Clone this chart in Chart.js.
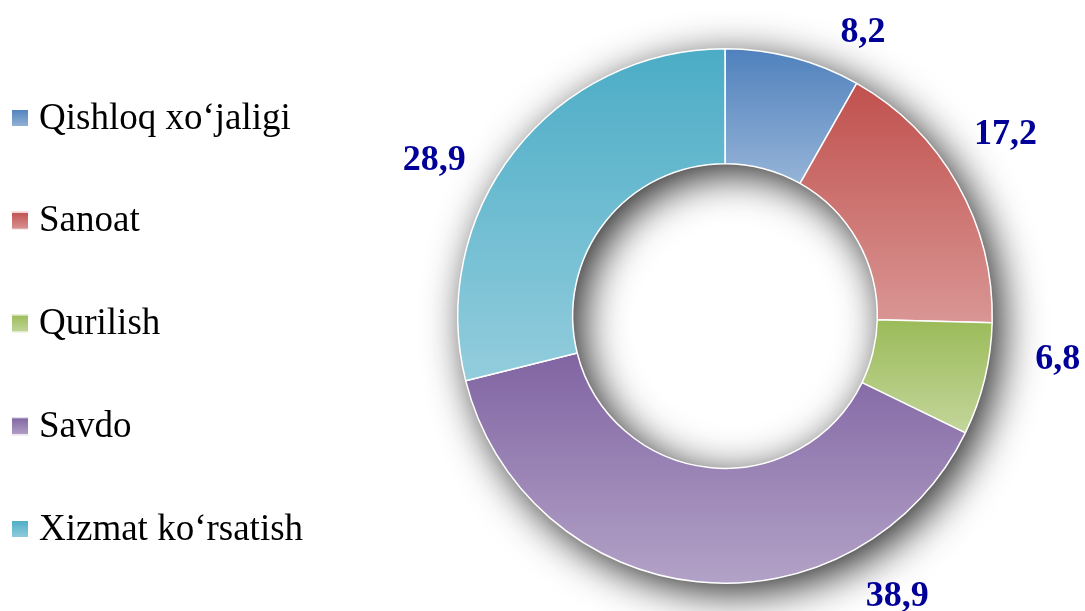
<!DOCTYPE html>
<html>
<head>
<meta charset="utf-8">
<script src="https://cdn.jsdelivr.net/npm/chart.js@4"></script>
<style>
  html, body { margin: 0; padding: 0; background: #ffffff; }
  #wrap { width: 1085px; height: 611px; position: relative; }
</style>
</head>
<body>
<div id="wrap"><canvas id="sectorChart"></canvas></div>
<script>
const labels = ['Qishloq xo\u2018jaligi', 'Sanoat', 'Qurilish', 'Savdo', 'Xizmat ko\u2018rsatish'];
const shares = [8.2, 17.2, 6.8, 38.9, 28.9];

// top / bottom colours of each slice gradient
const topColors = ['#4f81bd', '#c0504d', '#9bbb59', '#8064a2', '#4bacc6'];
const bottomColors = ['#95b3d7', '#d99694', '#c3d69b', '#b3a2c7', '#93cddd'];

// label nudges from the outer middle of each slice
const labelNudge = [[70, -27], [48, -52], [73, -22], [200, 13], [-80, 7]];

const CUTOUT = 0.57;
const serif = "'Liberation Serif', 'Times New Roman', serif";

function sliceGradient(c) {
  const chart = c.chart;
  const area = chart.chartArea;
  const i = c.dataIndex;
  if (!area || i === undefined) return topColors[i] || '#999';
  const cx = (area.left + area.right) / 2;
  const cy = (area.top + area.bottom) / 2;
  const R = Math.min(area.width, area.height) / 2;
  const total = shares.reduce((a, b) => a + b, 0);
  let before = 0;
  for (let k = 0; k < i; k++) before += shares[k];
  const a0 = -Math.PI / 2 + 2 * Math.PI * before / total;
  const a1 = a0 + 2 * Math.PI * shares[i] / total;
  let minY = Infinity, maxY = -Infinity;
  for (let s = 0; s <= 60; s++) {
    const a = a0 + (a1 - a0) * s / 60;
    for (const r of [R, R * CUTOUT]) {
      const y = cy + r * Math.sin(a);
      minY = Math.min(minY, y);
      maxY = Math.max(maxY, y);
    }
  }
  const g = chart.ctx.createLinearGradient(0, minY, 0, maxY);
  g.addColorStop(0, topColors[i]);
  g.addColorStop(1, bottomColors[i]);
  return g;
}

// soft drop shadow under the ring
const ringShadow = {
  id: 'ringShadow',
  beforeDatasetsDraw(chart) {
    const arc = chart.getDatasetMeta(0).data[0];
    if (!arc) return;
    const {x, y, outerRadius, innerRadius} = arc.getProps(['x', 'y', 'outerRadius', 'innerRadius'], true);
    const ctx = chart.ctx;
    ctx.save();
    ctx.shadowColor = 'rgba(0,0,0,0.85)';
    ctx.shadowBlur = 42;
    ctx.shadowOffsetX = 9;
    ctx.shadowOffsetY = 9;
    ctx.beginPath();
    ctx.arc(x, y, outerRadius, 0, Math.PI * 2);
    ctx.arc(x, y, innerRadius, Math.PI * 2, 0, true);
    ctx.closePath();
    ctx.fillStyle = '#ffffff';
    ctx.fill('evenodd');
    ctx.restore();
  }
};

// value labels outside the ring
const valueLabels = {
  id: 'valueLabels',
  afterDatasetsDraw(chart) {
    const ctx = chart.ctx;
    const meta = chart.getDatasetMeta(0);
    ctx.save();
    ctx.font = 'bold 36px ' + serif;
    ctx.fillStyle = '#000099';
    ctx.textAlign = 'center';
    ctx.textBaseline = 'middle';
    meta.data.forEach((arc, i) => {
      const p = arc.getProps(['x', 'y', 'startAngle', 'endAngle', 'outerRadius'], true);
      const mid = (p.startAngle + p.endAngle) / 2;
      const px = p.x + p.outerRadius * Math.cos(mid) + labelNudge[i][0];
      const py = p.y + p.outerRadius * Math.sin(mid) + labelNudge[i][1];
      ctx.fillText(shares[i].toFixed(1).replace('.', ','), px, py + 2);
    });
    ctx.restore();
  }
};

// legend column on the left
const sideLegend = {
  id: 'sideLegend',
  afterDraw(chart) {
    const ctx = chart.ctx;
    const firstY = 118, step = 102.75, box = 18;
    ctx.save();
    ctx.font = '37px ' + serif;
    ctx.fillStyle = '#000000';
    ctx.textBaseline = 'middle';
    chart.data.labels.forEach((label, i) => {
      const yc = firstY + i * step;
      const g = ctx.createLinearGradient(0, yc - box / 2, 0, yc + box / 2);
      g.addColorStop(0, topColors[i]);
      g.addColorStop(1, bottomColors[i]);
      ctx.fillStyle = g;
      ctx.fillRect(11, yc - box / 2, box, box);
      ctx.strokeStyle = '#ffffff';
      ctx.lineWidth = 1;
      ctx.strokeRect(11.5, yc - box / 2 + 0.5, box - 1, box - 1);
      ctx.fillStyle = '#000000';
      ctx.fillText(label, 39, yc + 1);
    });
    ctx.restore();
  }
};

new Chart(document.getElementById('sectorChart'), {
  type: 'doughnut',
  data: {
    labels: labels,
    datasets: [{
      data: shares,
      backgroundColor: sliceGradient,
      borderColor: '#ffffff',
      borderWidth: 1.5,
      hoverOffset: 0
    }]
  },
  options: {
    responsive: true,
    maintainAspectRatio: false,
    animation: false,
    cutout: (CUTOUT * 100) + '%',
    layout: { padding: { left: 457, right: 92, top: 48, bottom: 27 } },
    plugins: {
      legend: { display: false },
      tooltip: { enabled: false }
    }
  },
  plugins: [ringShadow, valueLabels, sideLegend]
});
</script>
</body>
</html>
